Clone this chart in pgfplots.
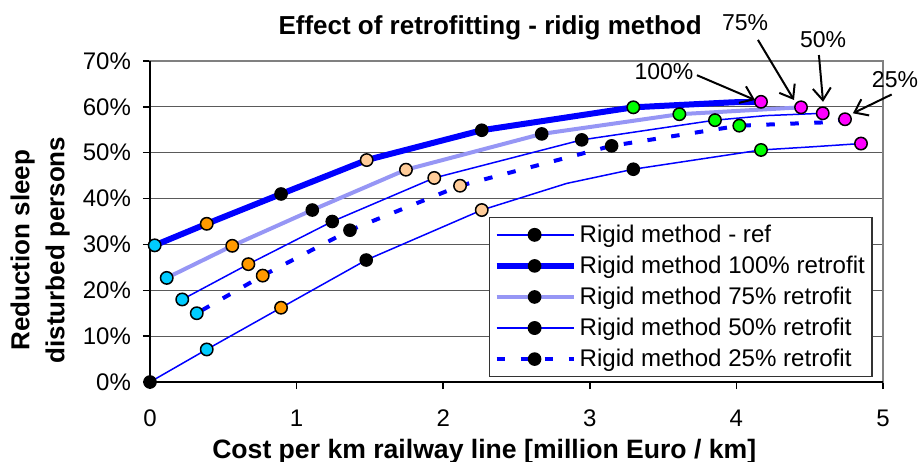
\documentclass[border=0pt]{standalone}
\usepackage{fontspec}
\setmainfont{Liberation Sans}
\usepackage{pgfplots}
\pgfplotsset{compat=1.18}
\usetikzlibrary{arrows.meta}
\definecolor{mcyan}{RGB}{0,204,255}
\definecolor{morange}{RGB}{255,153,0}
\definecolor{mtan}{RGB}{255,204,153}
\definecolor{mgreen}{RGB}{0,255,0}
\definecolor{mmag}{RGB}{255,0,255}
\definecolor{lblue}{RGB}{0,0,255}
\definecolor{lpurple}{RGB}{150,150,245}
\definecolor{gridc}{RGB}{90,90,90}
\begin{document}
\begin{tikzpicture}
\useasboundingbox (0,0) rectangle (460.5pt,230.5pt);
\begin{axis}[
  at={(75pt,39.5pt)}, anchor=south west,
  width=366.5pt, height=160.5pt, scale only axis,
  xmin=0, xmax=5, ymin=0, ymax=70,
  xtick={0,1,2,3,4,5}, ytick={0,10,...,70},
  yticklabel={\pgfmathprintnumber{\tick}\%},
  ymajorgrids, major grid style={gridc, line width=0.6pt},
  axis line style={draw=gray, line width=0.75pt},
  tick align=outside, xtick pos=bottom, ytick pos=left,
  major tick length=3.5pt, tick style={black, line width=0.75pt},
  tick label style={font=\fontsize{12}{14}\selectfont},
  yticklabel style={xshift=-2.5pt},
  xticklabel style={yshift=-7pt},
  /pgf/number format/assume math mode=true,
  clip=false,
  every axis title shift=0pt,
  title={Effect of retrofitting - ridig method},
  title style={at={(axis description cs:0.464,1.103)}, anchor=center, font=\bfseries\fontsize{13}{15}\selectfont},
  xlabel={Cost per km railway line [million Euro / km]},
  xlabel style={at={(axis description cs:0.456,-0.2165)}, anchor=center, font=\bfseries\fontsize{13.3}{15}\selectfont},
  ylabel={Reduction sleep\\disturbed persons},
  ylabel style={at={(axis description cs:-0.150,0.411)}, anchor=center, align=center, font=\bfseries\fontsize{13}{17.5}\selectfont},
  legend cell align=left,
  legend style={at={(rel axis cs:0.4625,0.514)}, anchor=north west, draw=black!80, line width=0.6pt, fill=white,
    font=\fontsize{12.05}{14}\selectfont, inner xsep=2pt, inner ysep=2pt, row sep=2.3pt, nodes={inner sep=1.5pt}},
  legend image code/.code={\draw[mark repeat=2,mark phase=2,#1] plot coordinates {(0pt,0pt)(19pt,0pt)(38.5pt,0pt)};},
]
% lines
\addplot[lblue, line width=0.75pt, forget plot] coordinates {(0,0) (0.387,7.1) (0.894,16.2) (1.475,26.6) (2.263,37.5) (2.842,43.3) (3.297,46.4) (4.168,50.6) (4.523,51.3) (4.850,52.0)};
\addplot[lblue, line width=3pt, forget plot] coordinates {(0.032,29.8) (0.387,34.5) (0.894,41.0) (1.478,48.4) (2.263,54.9) (3.297,59.9) (3.977,61.0) (4.168,61.1)};
\addplot[lpurple, line width=2pt, forget plot] coordinates {(0.114,22.7) (0.561,29.7) (1.107,37.5) (1.746,46.3) (2.672,54.1) (3.611,58.4) (4.441,59.9)};
\addplot[lblue, line width=0.75pt, forget plot] coordinates {(0.220,18.0) (0.671,25.7) (1.243,35.0) (1.939,44.5) (2.945,52.8) (3.854,57.1) (4.206,58.1) (4.589,58.6)};
\addplot[lblue, line width=2pt, dash pattern=on 4.25pt off 7.75pt, dash phase=-3pt, forget plot] coordinates {(0.319,15.0) (0.769,23.2) (1.364,33.1) (2.115,42.8) (3.149,51.5) (4.020,55.9) (4.584,56.6) (4.741,57.3)};
% markers
\addplot[only marks, mark=*, mark size=3.1pt, mark options={fill=black, draw=black, line width=0.6pt}, forget plot] coordinates {(0,0) (1.475,26.6) (3.297,46.4) (0.894,41.0) (2.263,54.9) (1.107,37.5) (2.672,54.1) (1.243,35.0) (2.945,52.8) (1.364,33.1) (3.149,51.5)};
\addplot[only marks, mark=*, mark size=3.1pt, mark options={fill=mcyan, draw=black, line width=0.75pt}, forget plot] coordinates {(0.387,7.1) (0.032,29.8) (0.114,22.7) (0.220,18.0) (0.319,15.0)};
\addplot[only marks, mark=*, mark size=3.1pt, mark options={fill=morange, draw=black, line width=0.75pt}, forget plot] coordinates {(0.894,16.2) (0.387,34.5) (0.561,29.7) (0.671,25.7) (0.769,23.2)};
\addplot[only marks, mark=*, mark size=3.1pt, mark options={fill=mtan, draw=black, line width=0.75pt}, forget plot] coordinates {(2.263,37.5) (1.478,48.4) (1.746,46.3) (1.939,44.5) (2.115,42.8)};
\addplot[only marks, mark=*, mark size=3.1pt, mark options={fill=mgreen, draw=black, line width=0.75pt}, forget plot] coordinates {(4.168,50.6) (3.297,59.9) (3.611,58.4) (3.854,57.1) (4.020,55.9)};
\addplot[only marks, mark=*, mark size=3.1pt, mark options={fill=mmag, draw=black, line width=0.75pt}, forget plot] coordinates {(4.850,52.0) (4.168,61.1) (4.441,59.9) (4.589,58.6) (4.741,57.3)};
% legend
\addlegendimage{lblue, line width=0.75pt, mark=*, mark options={solid, fill=black, draw=black, mark size=3.1pt}}
\addlegendentry{Rigid method - ref}
\addlegendimage{lblue, line width=3pt, mark=*, mark options={solid, fill=black, draw=black, line width=0.6pt, mark size=3.1pt}}
\addlegendentry{Rigid method 100\% retrofit}
\addlegendimage{lpurple, line width=2pt, mark=*, mark options={solid, fill=black, draw=black, line width=0.6pt, mark size=3.1pt}}
\addlegendentry{Rigid method 75\% retrofit}
\addlegendimage{lblue, line width=0.75pt, mark=*, mark options={solid, fill=black, draw=black, mark size=3.1pt}}
\addlegendentry{Rigid method 50\% retrofit}
\addlegendimage{lblue, line width=2pt, dash pattern=on 4.25pt off 7.75pt, mark=*, mark options={solid, fill=black, draw=black, line width=0.6pt, mark size=3.1pt}}
\addlegendentry{Rigid method 25\% retrofit}
% axis lines left and bottom
\draw[black, line width=1pt] (rel axis cs:0,1) -- (rel axis cs:0,0) -- (rel axis cs:1,0);
% annotations
\node[font=\fontsize{11.5}{13}\selectfont] at (axis cs:3.506,67.8) {100\%};
\node[font=\fontsize{11.5}{13}\selectfont] at (axis cs:4.059,78.3) {75\%};
\node[font=\fontsize{11.5}{13}\selectfont] at (axis cs:4.591,74.6) {50\%};
\node[font=\fontsize{11.5}{13}\selectfont] at (axis cs:5.082,65.9) {25\%};
\draw[-{Straight Barb[length=6pt,width=9pt]}, line width=1pt] (axis cs:3.731,66.9) -- (axis cs:4.127,61.5);
\draw[-{Straight Barb[length=6pt,width=9pt]}, line width=1pt] (axis cs:4.147,74.6) -- (axis cs:4.393,61.5);
\draw[-{Straight Barb[length=6pt,width=9pt]}, line width=1pt] (axis cs:4.563,71.3) -- (axis cs:4.591,61.1);
\draw[-{Straight Barb[length=6pt,width=9pt]}, line width=1pt] (axis cs:5.059,62.7) -- (axis cs:4.795,58.6);
\end{axis}
\end{tikzpicture}
\end{document}
